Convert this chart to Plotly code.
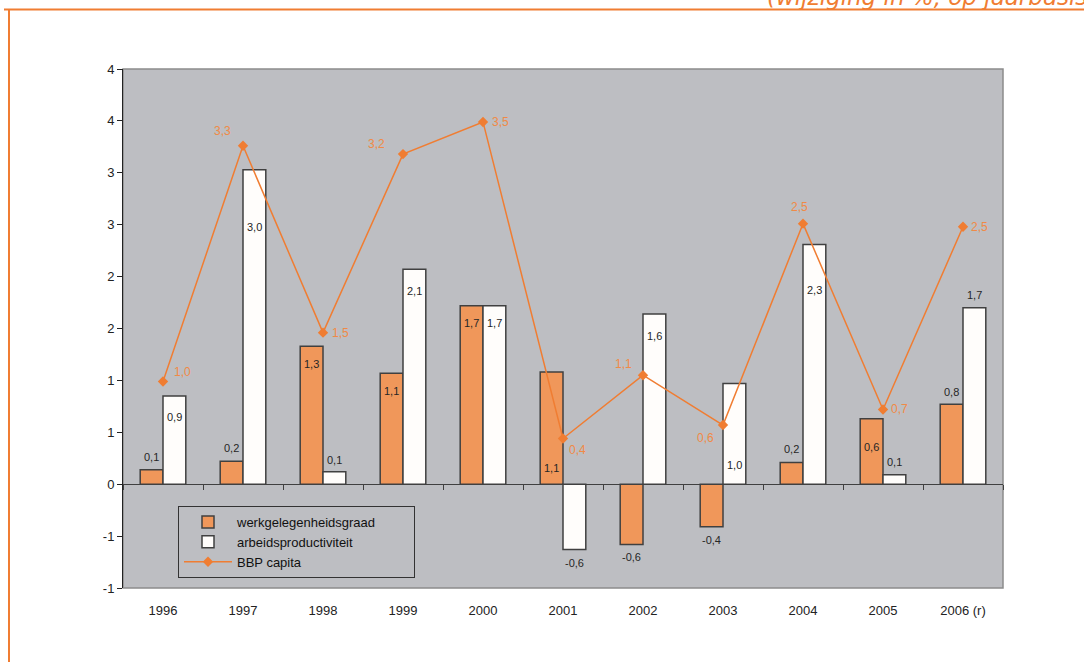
import plotly.graph_objects as go

# ---------------- data ----------------
years = ['1996', '1997', '1998', '1999', '2000', '2001', '2002', '2003', '2004', '2005', '2006 (r)']
werkgelegenheidsgraad = [0.14, 0.22, 1.33, 1.07, 1.72, 1.08, -0.58, -0.41, 0.21, 0.63, 0.77]
arbeidsproductiviteit = [0.85, 3.03, 0.12, 2.07, 1.72, -0.63, 1.64, 0.97, 2.31, 0.09, 1.70]
bbp_capita = [0.99, 3.26, 1.46, 3.18, 3.49, 0.44, 1.05, 0.57, 2.51, 0.72, 2.48]

werk_labels = ['0,1', '0,2', '1,3', '1,1', '1,7', '1,1', '-0,6', '-0,4', '0,2', '0,6', '0,8']
arb_labels = ['0,9', '3,0', '0,1', '2,1', '1,7', '-0,6', '1,6', '1,0', '2,3', '0,1', '1,7']
bbp_labels = ['1,0', '3,3', '1,5', '3,2', '3,5', '0,4', '1,1', '0,6', '2,5', '0,7', '2,5']

y_tickvals = [-1, -0.5, 0, 0.5, 1, 1.5, 2, 2.5, 3, 3.5, 4]
y_ticktext = ['-1', '-1', '0', '1', '1', '2', '2', '3', '3', '4', '4']

# ---------------- label placement (styling) ----------------
werk_lbl_place = [('end', 13), ('end', 13), ('end', -18), ('end', -18), ('end', -17), ('base', 16),
                  ('end', -13), ('end', -13), ('end', 13), ('end', -28), ('end', 12)]
arb_lbl_place = [('end', -21), ('end', -57), ('end', 12), ('end', -22), ('end', -17), ('end', -13),
                 ('end', -22), ('base', 19), ('end', -46), ('end', 13), ('end', 13)]
bbp_lbl_shift = [(19, 9), (-21, 15), (17, 0), (-27, 10), (17, 0), (14, -11),
                 (-20, 11), (-18, -13), (-4, 17), (16, 0), (16, 0)]

ORANGE_BAR = '#F0975A'
ORANGE_LINE = '#F07D32'
BAR_EDGE = '#404040'
BG = '#BDBEC2'
FONT = 'Arial, Liberation Sans, sans-serif'
PAD = '\u00a0' * 9  # widens the legend box like the original

W, H = 1084, 662
ML, MR, MT, MB = 123, 81, 69, 74
PW, PH = W - ML - MR, H - MT - MB
XRANGE = [-0.5, len(years) - 0.5]


def px_x(p):
    return (p - ML) / PW


def px_y(p):
    return (H - MB - p) / PH


fig = go.Figure()
fig.add_trace(go.Bar(
    x=years, y=werkgelegenheidsgraad, name='werkgelegenheidsgraad' + PAD,
    marker=dict(color=ORANGE_BAR, line=dict(color=BAR_EDGE, width=1.5)),
))
fig.add_trace(go.Bar(
    x=years, y=arbeidsproductiviteit, name='arbeidsproductiviteit',
    marker=dict(color='#FFFDFB', line=dict(color=BAR_EDGE, width=1.5)),
))
fig.add_trace(go.Scatter(
    x=years, y=bbp_capita, name='BBP capita', mode='lines+markers',
    line=dict(color=ORANGE_LINE, width=1.5),
    marker=dict(symbol='diamond', size=8, color=ORANGE_LINE),
    xaxis='x2', yaxis='y',
))

annotations = []
bar_half = PW / len(years) * (1 - 0.43) / 4
for vals, labels, places, sign in [(werkgelegenheidsgraad, werk_labels, werk_lbl_place, -1),
                                   (arbeidsproductiviteit, arb_labels, arb_lbl_place, 1)]:
    for i, (v, t, (anchor, sh)) in enumerate(zip(vals, labels, places)):
        annotations.append(dict(
            x=i, y=v if anchor == 'end' else 0, xref='x', yref='y', text=t, showarrow=False,
            xanchor='center', yanchor='middle', xshift=sign * bar_half, yshift=sh,
            font=dict(family=FONT, size=11, color='#262626')))
for i, (v, t, (dx, dy)) in enumerate(zip(bbp_capita, bbp_labels, bbp_lbl_shift)):
    annotations.append(dict(
        x=i, y=v, xref='x', yref='y', text=t, showarrow=False,
        xanchor='center', yanchor='middle', xshift=dx, yshift=dy,
        font=dict(family=FONT, size=12, color='#F08A46')))

annotations.append(dict(
    x=px_x(765), y=px_y(-3), xref='paper', yref='paper', xanchor='left', yanchor='middle',
    text='<i>(wijziging in %, op jaarbasis)</i>', showarrow=False,
    font=dict(family='DejaVu Sans', size=23, color=ORANGE_LINE)))

shapes = [
    dict(type='rect', xref='paper', yref='paper', x0=0, x1=1, y0=0, y1=1,
         line=dict(color='#8C8C8C', width=1.5), layer='below'),
    dict(type='line', xref='paper', yref='paper', x0=px_x(4), x1=px_x(W + 5), y0=px_y(9.5), y1=px_y(9.5),
         line=dict(color=ORANGE_LINE, width=2)),
    dict(type='line', xref='paper', yref='paper', x0=px_x(9), x1=px_x(9), y0=px_y(9.5), y1=px_y(H + 5),
         line=dict(color=ORANGE_LINE, width=2)),
]

fig.update_layout(
    width=W, height=H,
    margin=dict(l=ML, r=MR, t=MT, b=MB),
    paper_bgcolor='white', plot_bgcolor=BG,
    barmode='group', bargap=0.43, bargroupgap=0,
    showlegend=True,
    legend=dict(x=px_x(178), y=px_y(506), xanchor='left', yanchor='top',
                bgcolor='rgba(0,0,0,0)', bordercolor='#333333', borderwidth=1,
                font=dict(family=FONT, size=13, color='#111111'),
                traceorder='normal', itemwidth=48, tracegroupgap=0),
    font=dict(family=FONT, size=13, color='#222222'),
    xaxis=dict(type='category', categoryorder='array', categoryarray=years, range=XRANGE,
               showline=False, showgrid=False, zeroline=False,
               ticks='outside', ticklen=10, tickcolor='rgba(0,0,0,0)',
               tickfont=dict(family=FONT, size=13, color='#222222')),
    xaxis2=dict(type='category', categoryorder='array', categoryarray=years, range=XRANGE,
                overlaying='x', anchor='free', position=0.2,
                showline=True, linecolor=BAR_EDGE, linewidth=1, showgrid=False, zeroline=False,
                ticks='outside', tickson='boundaries', ticklen=5, tickcolor=BAR_EDGE,
                showticklabels=False),
    yaxis=dict(range=[-1, 4], tickvals=y_tickvals, ticktext=y_ticktext,
               showgrid=False, zeroline=False, showline=True, linecolor='#222222', linewidth=1,
               ticks='outside', ticklen=5, tickcolor='#222222',
               tickfont=dict(family=FONT, size=13, color='#222222')),
    annotations=annotations,
    shapes=shapes,
)

fig.write_html('out.html', config={'displayModeBar': False},
               post_script="document.body.style.margin='0';")
